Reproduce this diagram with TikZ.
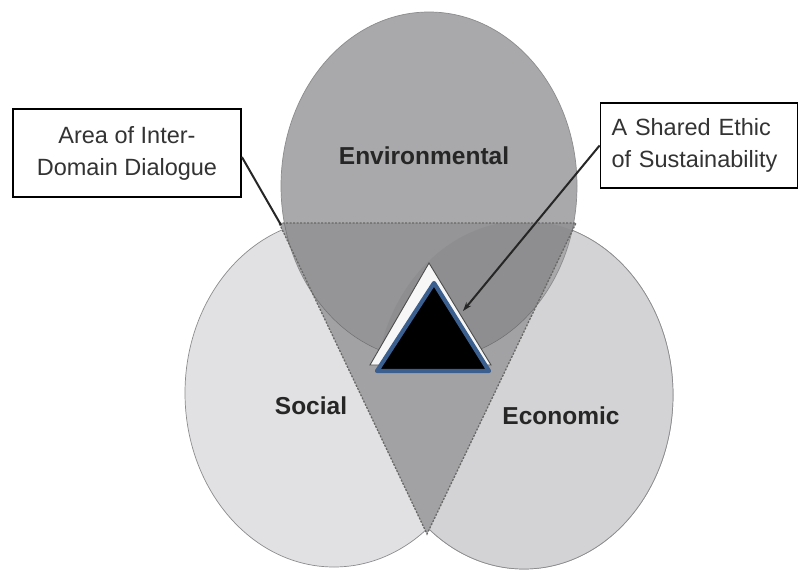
\documentclass[tikz,border=0pt]{standalone}
\usepackage{fontspec}
\setmainfont{Liberation Sans}
\usetikzlibrary{arrows.meta}
\definecolor{envc}{HTML}{A9A9AB}
\definecolor{socc}{HTML}{E1E1E3}
\definecolor{ecoc}{HTML}{D3D3D5}
\definecolor{trilow}{HTML}{A2A2A4}
\definecolor{trienv}{HTML}{959597}
\definecolor{trieco}{HTML}{8E8E90}
\definecolor{rimc}{HTML}{8C8C8E}
\definecolor{dashc}{HTML}{686868}
\definecolor{labc}{HTML}{262626}
\definecolor{boxtc}{HTML}{333333}
\definecolor{bluec}{HTML}{3B5F8E}
\begin{document}
\begin{tikzpicture}[x=1pt,y=-1pt,
  rim/.style={draw=rimc,line width=0.7pt},
  domlabel/.style={inner sep=0pt,text=labc,font=\bfseries\fontsize{24.5}{29}\selectfont},
  callout/.style={draw=black,line width=1.8pt,fill=white,text=boxtc,font=\fontsize{23.5}{32}\selectfont},
  tridash/.style={draw=dashc,line width=1.3pt,dash pattern=on 2pt off 1.5pt},
  leader/.style={draw=black!85,line width=2pt}]
\useasboundingbox (0,0) rectangle (798,570);
\fill[white] (0,0) rectangle (798,570);
% domains
\path[fill=ecoc,rim] (524,395) ellipse [x radius=149pt,y radius=174pt];
\path[fill=socc,rim] (334,393) ellipse [x radius=149pt,y radius=174pt];
\begin{scope}
  \clip (683,0) -- (395,600) -- (800,600) -- (800,0) -- cycle;
  \path[fill=ecoc,rim] (524,395) ellipse [x radius=149pt,y radius=174pt];
\end{scope}
\path[fill=envc,rim] (429,186) ellipse [x radius=148pt,y radius=174pt];
% overlap triangle
\coordinate (tA) at (279,223);
\coordinate (tB) at (576,223);
\coordinate (tC) at (427,534);
\fill[trilow] (tA) -- (tB) -- (tC) -- cycle;
\begin{scope}
  \clip (tA) -- (tB) -- (tC) -- cycle;
  \fill[trienv] (429,186) ellipse [x radius=148pt,y radius=174pt];
  \begin{scope}
    \clip (524,395) ellipse [x radius=149pt,y radius=174pt];
    \fill[trieco] (429,186) ellipse [x radius=148pt,y radius=174pt];
  \end{scope}
  \draw[draw=rimc!80!black,line width=0.5pt] (429,186) ellipse [x radius=148pt,y radius=174pt];
\end{scope}
\path[tridash] (tA) -- (tB) -- (tC) -- cycle;
% shared ethic triangles
\path[fill=white!94!gray,draw=black!70,line width=0.9pt,line join=miter] (429,263) -- (491,365) -- (370,365) -- cycle;
\path[fill=black,draw=bluec,line width=4.2pt,line join=round] (434,283) -- (489,371) -- (377,371) -- cycle;
% domain labels
\node[domlabel] (envl) at (424,156) {Environmental};
\node[domlabel] (socl) at (311,406) {Social};
\node[domlabel] (ecol) at (561,416) {Economic};
% callouts
\node[callout,minimum width=228pt,minimum height=88pt,align=center,inner sep=0pt] (boxL) at (127,153)
  {Area of Inter-\\Domain Dialogue};
\node[callout,text width=175pt,minimum height=85pt,align=left,inner xsep=11pt,inner ysep=0pt] (boxR) at (699,145.5)
  {A Shared Ethic\\of Sustainability};
\coordinate (cornerL) at (281,225);
\coordinate (tip) at (463,311);
\draw[leader] (boxL.east) ++(0,4) -- (cornerL);
\draw[leader,-{Stealth[length=9pt,width=6pt]}] (boxR.west) -- (tip);
\end{tikzpicture}
\end{document}
